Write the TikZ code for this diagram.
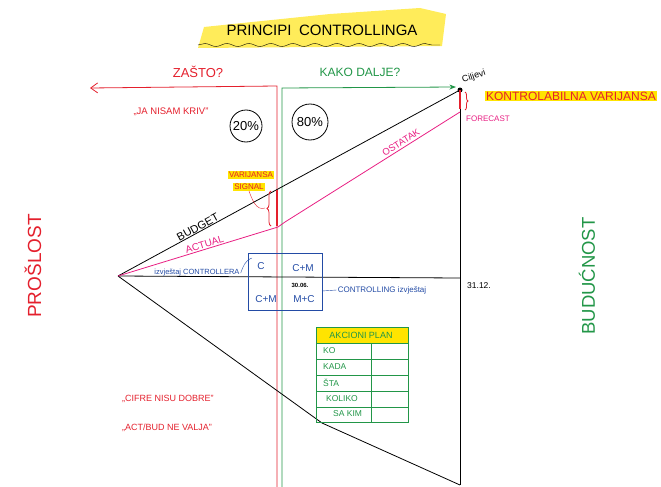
\documentclass[tikz,border=0pt]{standalone}
\usepackage{fontspec}
\setmainfont{Liberation Sans}
\usepackage{tikz}
\usetikzlibrary{arrows.meta, decorations.pathmorphing, decorations.pathreplacing, calc}
\usepackage{xcolor}
\definecolor{markred}{RGB}{228, 32, 45}
\definecolor{markgreen}{RGB}{34, 150, 72}
\definecolor{markpink}{RGB}{232, 30, 130}
\definecolor{markblue}{RGB}{35, 75, 165}
\definecolor{markyellow}{RGB}{255, 228, 0}
\definecolor{titleyellow}{RGB}{255, 236, 90}

\begin{document}
\begin{tikzpicture}[x=1pt, y=-1pt, >=Stealth,
  hand/.style={font=\fontsize{#1}{#1}\selectfont, inner sep=1pt},
  highlight/.style={fill=markyellow, inner sep=1.5pt}]

  \useasboundingbox (0,0) rectangle (661,487);

  % title
  \fill[titleyellow] (198,48) -- (204,27) -- (262,21) -- (330,14) -- (420,8) -- (446,14) -- (442,46) -- cycle;
  \node[hand=15] (title) at (322,30) {PRINCIPI\enspace CONTROLLINGA};
  \draw[decorate, decoration={snake, amplitude=1.5pt, segment length=22pt}] (198,45) -- (440,45);

  % past / future divider
  \coordinate (redtop) at (277,86);
  \coordinate (redbot) at (277,487);
  \coordinate (whyend) at (90,88);
  \draw[markred, thick, -{Straight Barb[length=7pt, width=10pt]}] (redbot) -- (redtop) -- (whyend);
  \node[markred, hand=13] (why) at (198,72) {ZAŠTO?};

  \coordinate (greentop) at (282,88);
  \coordinate (greenbot) at (282,487);
  \coordinate (howend) at (456,87);
  \draw[markgreen, thick, ->] (greenbot) -- (greentop) -- (howend);
  \node[markgreen, hand=12] (how) at (360,72) {KAKO DALJE?};

  % the cone
  \coordinate (apex) at (118,276);
  \coordinate (goal) at (460,90);
  \coordinate (yearend) at (460,278);
  \coordinate (low) at (322,423);
  \coordinate (bottom) at (460,485);
  \draw[thick] (goal) -- (bottom);
  \draw[thick] (apex) -- node[pos=0.24, above, sloped, hand=11, inner sep=0.5pt] (budget) {BUDGET} (goal);
  \draw[thick] (apex) -- (yearend);
  \draw[thick] (apex) -- (low) -- (bottom);
  \node[hand=8.5, anchor=west] (dec) at (466,286) {31.12.};

  % actual and the rest of the year
  \coordinate (now) at (278,227);
  \coordinate (turn) at (285,222);
  \coordinate (forecast) at (460,112);
  \draw[markpink, thick] (apex) -- node[pos=0.55, above, sloped, hand=10, inner sep=1pt] (actual) {ACTUAL} (now)
    -- (turn) -- node[pos=0.68, above, sloped, hand=9.5, inner sep=2pt] (rest) {OSTATAK} (forecast);

  % goals and controllable variance
  \fill (goal) circle (2.5);
  \node[hand=9, rotate=18, anchor=south west] (goals) at (463,86) {Ciljevi};
  \draw[markred, line width=2.5pt] (goal) -- (460,109);
  \draw[markred, thick, decorate, decoration={brace, amplitude=3pt}] (465,92) -- (465,110);
  \node[markred, highlight, hand=12] (ctrlvar) at (571,96) {KONTROLABILNA VARIJANSA};
  \node[markpink, hand=8, anchor=west] (fc) at (465,119) {FORECAST};

  % variance signal
  \coordinate (budnow) at (277,190);
  \coordinate (sigtip) at (265,208);
  \draw[markred, line width=2.5pt] (budnow) -- (277,226);
  \draw[markred, thick, decorate, decoration={brace, amplitude=4pt}] (271,226) -- (271,191);
  \node[markred, highlight, hand=8] (varsig) at (251,175) {VARIJANSA};
  \node[markred, highlight, hand=8] (signal) at (249,187) {SIGNAL};
  \draw[markred] (sigtip) to[out=200, in=-70] (signal.south);

  % 20 / 80
  \node[circle, draw, thick, hand=13, minimum size=32pt, inner sep=0pt] (pct20) at (246,126) {20\%};
  \node[circle, draw, thick, hand=13, minimum size=36pt, inner sep=0pt] (pct80) at (310,122) {80\%};

  % quotes
  \node[markred, hand=9.5] (notme) at (171,112) {„JA NISAM KRIV”};
  \node[markred, hand=9] (figures) at (168,399) {„CIFRE NISU DOBRE”};
  \node[markred, hand=9] (actbud) at (167,428) {„ACT/BUD NE VALJA”};

  % past / future
  \node[markred, hand=19, rotate=90] (past) at (33,266) {PROŠLOST};
  \node[markgreen, hand=18.5, rotate=90] (future) at (587,276) {BUDUĆNOST};

  % controller report box
  \draw[markblue] (248,253) rectangle (322,310);
  \node[markblue, hand=10] (cellC) at (261,266) {C};
  \node[markblue, hand=10] (cellCM) at (303,268) {C+M};
  \node[markblue, hand=10] (cellCMb) at (266,299) {C+M};
  \node[markblue, hand=10] (cellMC) at (304,299) {M+C};
  \node[hand=6, font=\bfseries\fontsize{6}{6}\selectfont] (midyear) at (300,285) {30.06.};
  \coordinate (boxcorner) at (252,258);
  \coordinate (boxside) at (322,291);
  \node[markblue, hand=7.5] (ctrlrep) at (197,273) {izvještaj CONTROLLERA};
  \node[markblue, hand=8] (reprep) at (382,290) {CONTROLLING izvještaj};
  \draw[markblue] (ctrlrep.east) to[out=70, in=200] (boxcorner);
  \draw[markblue] (boxside) -- (reprep.west);

  % action plan
  \fill[markyellow] (316,327) rectangle (408,343);
  \draw[markgreen, thick] (316,327) rectangle (408,422);
  \draw[markgreen, thick] (371,343) -- (371,422);
  \foreach \y in {343,359,375,391,407}
    \draw[markgreen, thick] (316,\y) -- (408,\y);
  \node[markgreen, hand=9] (plan) at (361,335) {AKCIONI PLAN};
  \foreach \txt/\x/\y in {KO/322/351, KADA/322/367, ŠTA/322/383, KOLIKO/325/399, SA KIM/332/414}
    \node[markgreen, hand=8.5, anchor=west] at (\x,\y) {\txt};

\end{tikzpicture}
\end{document}
